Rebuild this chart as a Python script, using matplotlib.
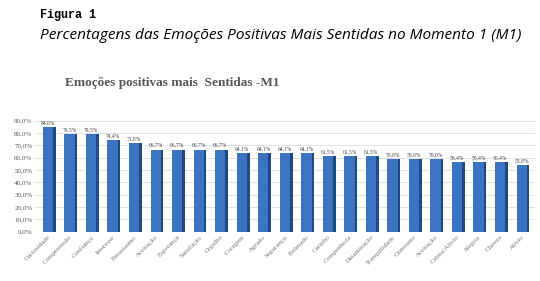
import matplotlib.pyplot as plt
import numpy as np

emocoes = ['Curiosidade', 'Compreensão', 'Confiança', 'Interesse', 'Entusiasmo',
           'Aceitação', 'Esperança', 'Satisfação', 'Orgulho', 'Coragem', 'Agrado',
           'Segurança', 'Estimado', 'Carinho', 'Competência', 'Dinamização',
           'Tranquilidade', 'Otimismo', 'Aceitação', 'Calma/Alívio', 'Alegria',
           'Clareza', 'Alívio']
valores = [84.6, 79.5, 79.5, 74.4, 71.8, 66.7, 66.7, 66.7, 66.7, 64.1, 64.1,
           64.1, 64.1, 61.5, 61.5, 61.5, 59.0, 59.0, 59.0, 56.4, 56.4, 56.4, 53.8]
yticks = np.arange(0, 91, 10)

fig = plt.figure(figsize=(5.4, 2.81), dpi=100)
fig.text(0.075, 0.935, 'Figura 1', fontsize=8.5, fontweight='bold',
         family='Liberation Mono')
fig.text(0.075, 0.86, 'Percentagens das Emoções Positivas Mais Sentidas no Momento 1 (M1)',
         fontsize=11.1, style='italic', family='Open Sans')
fig.text(0.12, 0.695, 'Emoções positivas mais  Sentidas -M1', fontsize=9.5,
         fontweight='bold', family='Liberation Serif', color='#555555')

ax = fig.add_axes([0.065, 0.175, 0.925, 0.395])
x = np.arange(len(emocoes))
# shaded side for a flat "3D" look
ax.bar(x + 0.1, valores, 0.52, color='#1d4a84', zorder=2)
ax.bar(x, valores, 0.48, color='#3b74c2', zorder=3)
for xi, v in zip(x, valores):
    ax.text(xi, v + 1.5, f'{v:.1f}%'.replace('.', ','), ha='center', va='bottom',
            fontsize=4, family='Liberation Serif', color='#444444')

ax.set_ylim(0, 90)
ax.set_xlim(-0.6, len(emocoes) - 0.4)
ax.set_yticks(yticks)
ax.set_yticklabels([f'{t:.1f}%'.replace('.', ',') for t in yticks],
                   fontsize=5, family='Liberation Serif', color='#555555')
ax.set_xticks(x)
ax.set_xticklabels(emocoes, rotation=45, ha='right', rotation_mode='anchor',
                   fontsize=5, family='Liberation Serif', color='#777777')
ax.tick_params(length=0, pad=2)
ax.grid(axis='y', color='#dddddd', linewidth=0.6, zorder=0)
for s in ax.spines.values():
    s.set_visible(False)

fig.savefig('out.png', dpi=100)
